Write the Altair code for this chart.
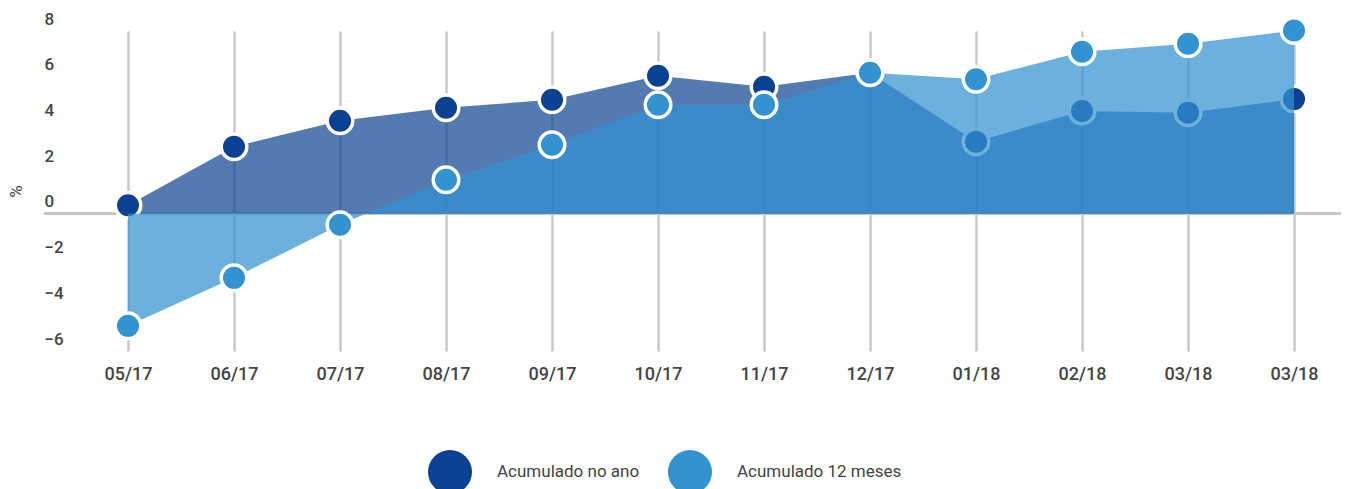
import altair as alt
import pandas as pd

labels = ["05/17", "06/17", "07/17", "08/17", "09/17", "10/17", "11/17",
          "12/17", "01/18", "02/18", "03/18", "03/18"]
acum_ano = [0.38, 2.94, 4.07, 4.64, 4.99, 6.04, 5.56, 6.17, 3.16, 4.50, 4.42, 5.02]
acum_12m = [-4.90, -2.80, -0.48, 1.49, 3.02, 4.77, 4.77, 6.17, 5.89, 7.09, 7.44, 8.02]
series = ["Acumulado no ano", "Acumulado 12 meses"]
colors = ["#0b4192", "#3392d0"]
y_ticks = [-6, -4, -2, 0, 2, 4, 6, 8]

rows = []
for i, (lab, a, b) in enumerate(zip(labels, acum_ano, acum_12m)):
    rows.append({"i": i, "mes": lab, "serie": series[0], "valor": a})
    rows.append({"i": i, "mes": lab, "serie": series[1], "valor": b})
df = pd.DataFrame(rows)

W, H = 1297, 320
xscale = alt.Scale(domain=[-0.7925, 11.443], nice=False, zero=False)
yscale = alt.Scale(domain=[-6, 8], nice=False, zero=False)
label_expr = "[" + ",".join(f"'{l}'" for l in labels) + "][datum.value]"

x_enc = alt.X(
    "i:Q", scale=xscale,
    axis=alt.Axis(values=list(range(len(labels))), labelExpr=label_expr, grid=True,
                  gridColor="#c8c8c8", gridWidth=2.5, domain=False, ticks=False,
                  tickSize=0, labelFontSize=18, labelColor="#444", labelFont="Roboto",
                  labelFontWeight=500, labelPadding=14, labelBaseline="top", title=None),
)
y_enc = alt.Y(
    "valor:Q", scale=yscale,
    axis=alt.Axis(values=y_ticks, grid=False, domain=False, ticks=False, tickSize=0,
                  labelAlign="left", labelPadding=0, labelBaseline="alphabetic",
                  labelOffset=-7, labelFontSize=17, labelColor="#444", labelFont="Roboto",
                  labelFontWeight=500, title="%", titleX=-28, titleY=160, titleAngle=270,
                  titleBaseline="middle", titleAlign="center", titleFontSize=17,
                  titleFontWeight="normal", titleColor="#444", titleFont="Roboto"),
)

color_enc = alt.Color(
    "serie:N",
    scale=alt.Scale(domain=series, range=colors),
    legend=alt.Legend(orient="none", legendX=384, legendY=419, direction="horizontal",
                      title=None, symbolSize=1936, symbolType="circle",
                      symbolStrokeWidth=0, symbolOpacity=1, labelFontSize=17,
                      labelColor="#444", labelFont="Roboto", labelOffset=25,
                      labelLimit=400, columnPadding=28, padding=0),
)

base = alt.Chart(df)

rule = base.mark_rule(color="#c8c8c8", strokeWidth=2.5).encode(
    y=alt.datum(0), x=alt.value(0), x2=alt.value(W + 8)
)

area_dark = base.transform_filter(alt.datum.serie == series[0]).mark_area(
    color=colors[0], opacity=0.7).encode(x=x_enc, y=y_enc)
pts_dark = base.transform_filter(alt.datum.serie == series[0]).mark_circle(
    size=650, stroke="white", strokeWidth=3.5, opacity=1).encode(x=x_enc, y=y_enc, color=color_enc)
area_light = base.transform_filter(alt.datum.serie == series[1]).mark_area(
    color=colors[1], opacity=0.72).encode(x=x_enc, y=y_enc)
pts_light = base.transform_filter(alt.datum.serie == series[1]).mark_circle(
    size=650, stroke="white", strokeWidth=3.5, opacity=1).encode(x=x_enc, y=y_enc, color=color_enc)

chart = alt.layer(rule, area_dark, pts_dark, area_light, pts_light).properties(
    width=W, height=H, autosize="none",
    padding={"left": 36, "top": 23, "right": 0, "bottom": 138},
).configure(font="Roboto").configure_view(strokeWidth=0, stroke="transparent")

chart.save("out.html", embed_options={"renderer": "svg", "actions": False})
